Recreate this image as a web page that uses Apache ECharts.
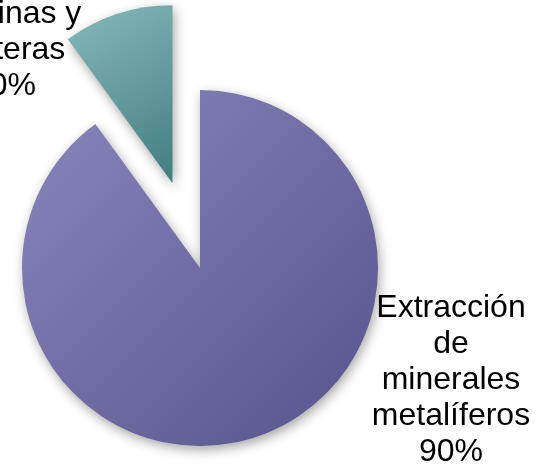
<!DOCTYPE html>
<html>
<head>
<meta charset="utf-8">
<script src="https://cdn.jsdelivr.net/npm/echarts@6/dist/echarts.min.js"></script>
<style>
html,body{margin:0;padding:0;background:#fff;}
#c{width:539px;height:469px;}
</style>
</head>
<body>
<div id="c"></div>
<script>
const categories = ["Extracción\nde\nminerales\nmetalíferos", "Explotación\nde minas y\ncanteras"];
const values = [90, 10];
const percentLabels = ["90%", "10%"];

const labelPos = [[451, 380], [4, 32]];
const colors = [
  ['#8987bc', '#55538b'],
  ['#87b9ba', '#427d7e']
];

const chart = echarts.init(document.getElementById('c'), null, {renderer: 'canvas'});
const grad = i => ({
  type: 'linear', x: 0, y: 0, x2: 1, y2: 1,
  colorStops: [{offset: 0, color: colors[i][0]}, {offset: 1, color: colors[i][1]}]
});
const data = categories.map((name, i) => ({
  name: name,
  value: values[i],
  selected: i === 1,
  itemStyle: {color: grad(i)},
  select: {itemStyle: {color: grad(i), borderWidth: 0}}
}));

chart.setOption({
  animation: false,
  graphic: categories.map((name, i) => ({
    type: 'text',
    x: labelPos[i][0],
    y: labelPos[i][1],
    silent: true,
    style: {
      text: name + '\n' + percentLabels[i],
      fontFamily: 'Liberation Sans, Arial, sans-serif',
      fontSize: 32,
      lineHeight: 36,
      fill: '#000',
      align: 'center',
      verticalAlign: 'middle'
    }
  })),
  series: [{
    type: 'pie',
    center: [200, 268],
    radius: [0, 178],
    startAngle: 90,
    clockwise: true,
    selectedMode: 'single',
    selectedOffset: 89,
    silent: true,
    itemStyle: {
      shadowBlur: 12,
      shadowColor: 'rgba(0,0,0,0.35)',
      shadowOffsetX: 2,
      shadowOffsetY: 4
    },
    label: {show: false},
    labelLine: {show: false},
    data: data
  }]
});
</script>
</body>
</html>
